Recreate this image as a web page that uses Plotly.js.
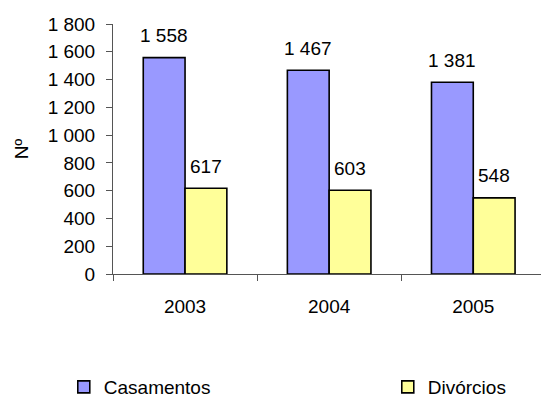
<!DOCTYPE html>
<html>
<head>
<meta charset="utf-8">
<script src="https://cdn.plot.ly/plotly-3.0.1.min.js"></script>
<style>html,body{margin:0;padding:0;background:#fff;}#chart{width:541px;height:401px;}</style>
</head>
<body>
<div id="chart"></div>
<script>
const years = ['2003', '2004', '2005'];
const casamentos = [1558, 1467, 1381];
const divorcios = [617, 603, 548];
const seriesNames = ['Casamentos', 'Divórcios'];

function fmt(v) { return String(v).replace(/\B(?=(\d{3})+(?!\d))/g, ' '); }

const FONT = 'Liberation Sans, Arial, sans-serif';
const FS = 19;
const traces = [
  {type: 'bar', name: seriesNames[0], x: years, y: casamentos, legend: 'legend',
   marker: {color: '#9999FF', line: {color: '#000', width: 1.6}}},
  {type: 'bar', name: seriesNames[1], x: years, y: divorcios, legend: 'legend2',
   marker: {color: '#FFFF99', line: {color: '#000', width: 1.6}}}
];

const annotations = [];
[casamentos, divorcios].forEach((vals, s) => {
  vals.forEach((v, i) => {
    annotations.push({x: i, y: v, xref: 'x', yref: 'y', text: fmt(v),
      showarrow: false, xshift: s === 0 ? -20.8 : 20.8, yshift: 22, yanchor: 'middle',
      font: {family: FONT, size: FS, color: '#000'}});
  });
});

const legendCommon = {orientation: 'h', yanchor: 'middle', xanchor: 'left', y: -0.452,
  font: {family: FONT, size: FS, color: '#000'}, bgcolor: 'rgba(0,0,0,0)', borderwidth: 0};

const layout = {
  width: 541, height: 401,
  margin: {l: 113, r: 0, t: 24, b: 127, autoexpand: false},
  paper_bgcolor: '#fff', plot_bgcolor: '#fff',
  separators: ', ',
  font: {family: FONT, size: FS, color: '#000'},
  bargap: 0.42, bargroupgap: 0,
  barmode: 'group',
  showlegend: true,
  legend: Object.assign({}, legendCommon, {x: -0.115}),
  legend2: Object.assign({}, legendCommon, {x: 0.642}),
  xaxis: {type: 'category', range: [-0.5, 2.47], tickson: 'boundaries', ticks: 'outside',
    ticklen: 6, tickcolor: '#555', showline: true, linecolor: '#555', linewidth: 1,
    showgrid: false, zeroline: false, ticklabelstandoff: 15,
    tickfont: {family: FONT, size: FS, color: '#000'}},
  yaxis: {range: [0, 1800], dtick: 200, tick0: 0, ticks: 'outside', ticklen: 6,
    tickcolor: '#555', showline: true, linecolor: '#555', linewidth: 1,
    showgrid: false, zeroline: false, separatethousands: true, ticklabelstandoff: 7,
    tickfont: {family: FONT, size: FS, color: '#000'},
    title: {text: 'Nº', font: {family: FONT, size: FS, color: '#000'}, standoff: 14}},
  annotations: annotations
};

Plotly.newPlot('chart', traces, layout, {displayModeBar: false, staticPlot: true});
</script>
</body>
</html>
